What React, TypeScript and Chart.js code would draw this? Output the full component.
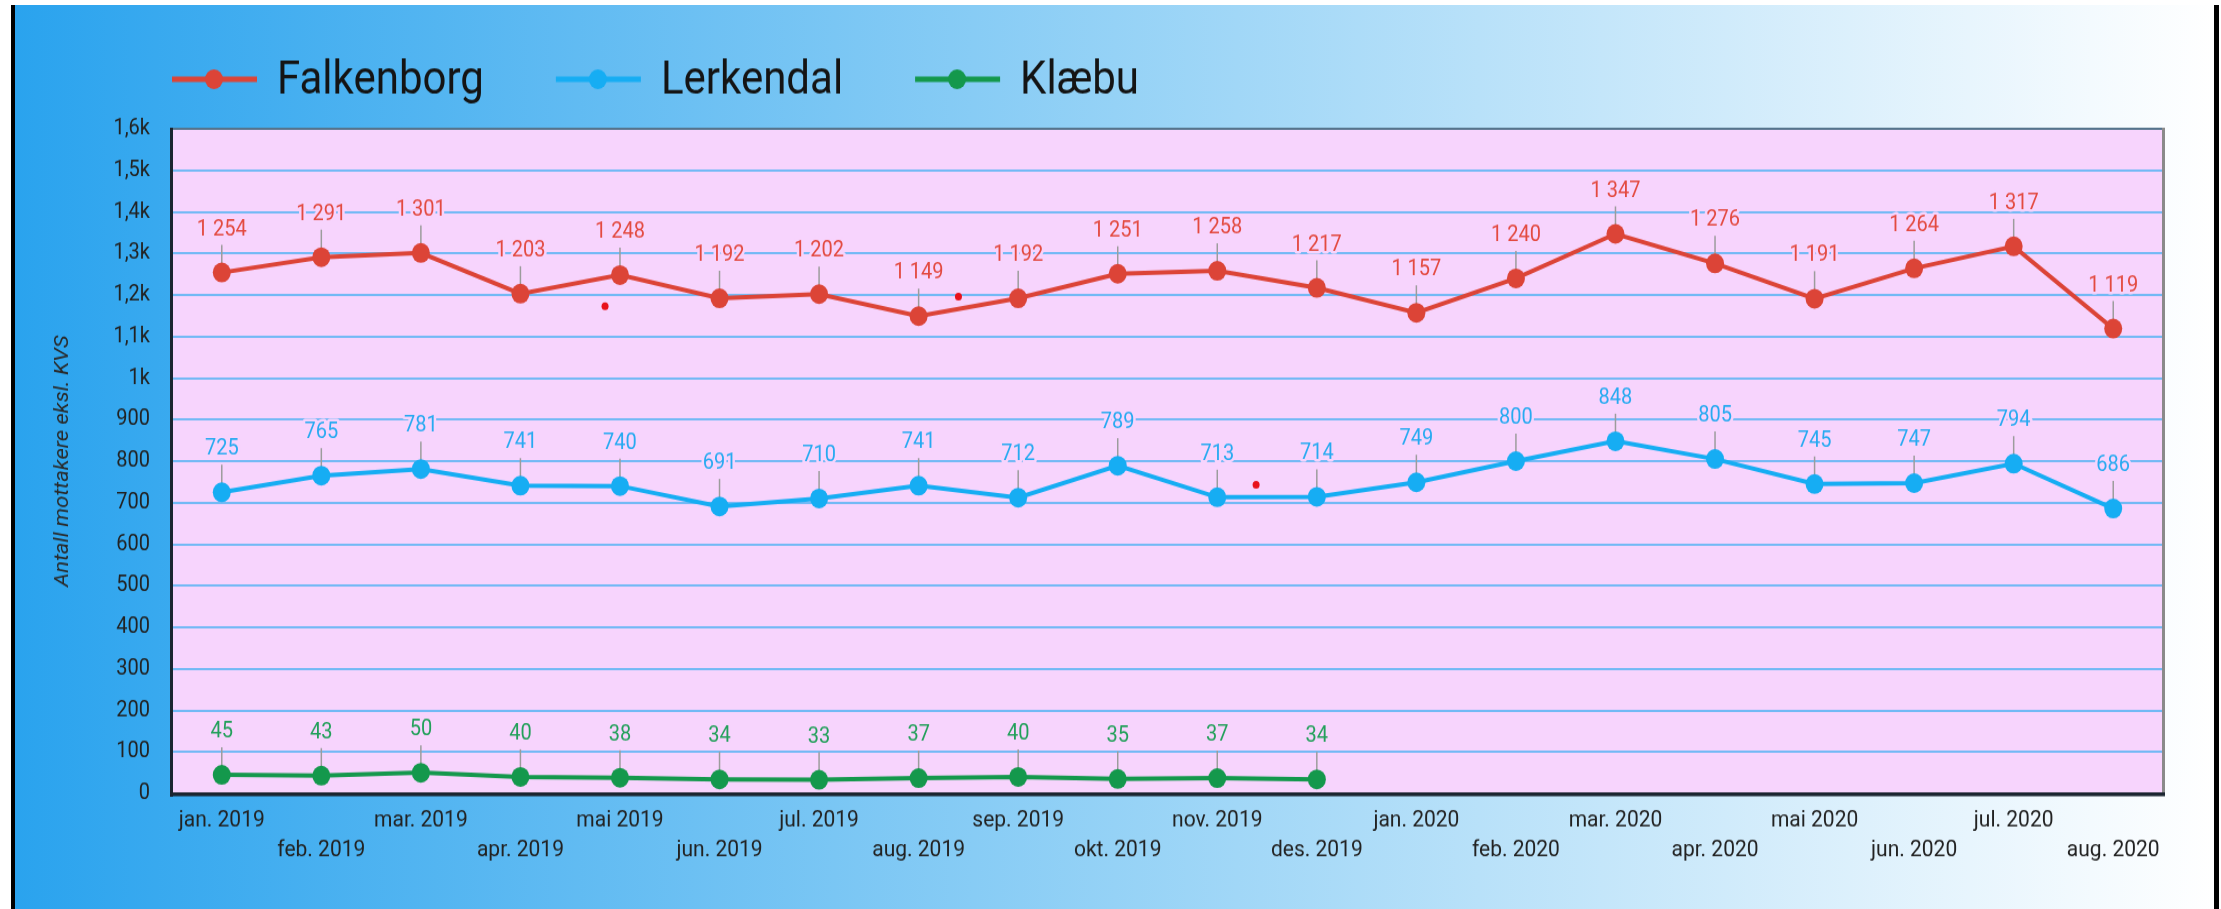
import React, { useEffect, useRef } from "react";
import { Chart, registerables } from "chart.js";

Chart.register(...registerables);

// ---------- data ----------
const months = [
  "jan. 2019", "feb. 2019", "mar. 2019", "apr. 2019", "mai 2019", "jun. 2019",
  "jul. 2019", "aug. 2019", "sep. 2019", "okt. 2019", "nov. 2019", "des. 2019",
  "jan. 2020", "feb. 2020", "mar. 2020", "apr. 2020", "mai 2020", "jun. 2020",
  "jul. 2020", "aug. 2020",
];
const falkenborg = [1254, 1291, 1301, 1203, 1248, 1192, 1202, 1149, 1192, 1251, 1258, 1217, 1157, 1240, 1347, 1276, 1191, 1264, 1317, 1119];
const lerkendal = [725, 765, 781, 741, 740, 691, 710, 741, 712, 789, 713, 714, 749, 800, 848, 805, 745, 747, 794, 686];
const klaebu = [45, 43, 50, 40, 38, 34, 33, 37, 40, 35, 37, 34, null, null, null, null, null, null, null, null];
const seriesNames = ["Falkenborg", "Lerkendal", "Klæbu"];
const lineColors = ["#dc4437", "#16adf3", "#14984c"];
const labelColors = ["#e34a40", "#27aaf1", "#22a05a"];
// small stray red dots seen in the picture (category index, value)
const strayX = [3.85, 7.4, 10.39];
const strayY = [1173, 1196, 743];
const yMin = 0;
const yMax = 1600;
const yStep = 100;
const yTitle = "Antall mottakere eksl. KVS";

const PINK = "#f7d4fd";
const CANVAS_H = 826;
const STRETCH = 909 / CANVAS_H;

function fmtNo(v: number): string {
  const s = String(v);
  return s.length > 3 ? s.slice(0, -3) + " " + s.slice(-3) : s;
}

const decoPlugin = {
  id: "deco",
  beforeDraw(chart: any) {
    const { ctx, chartArea: a } = chart;
    ctx.save();
    ctx.fillStyle = PINK;
    ctx.fillRect(a.left, a.top, a.right - a.left, a.bottom - a.top);
    ctx.restore();
  },
  beforeDatasetsDraw(chart: any) {
    const { ctx, chartArea: a } = chart;
    ctx.save();
    // plot frame
    ctx.fillStyle = "#55748c";
    ctx.fillRect(a.left, a.top - 1, a.right - a.left, 2);
    ctx.fillStyle = "#8a8a8a";
    ctx.fillRect(a.right - 1, a.top - 1, 3, a.bottom - a.top + 2);
    ctx.fillStyle = "#1b2530";
    ctx.fillRect(a.left - 2, a.top - 1, 3, a.bottom - a.top + 4);
    ctx.fillRect(a.left - 2, a.bottom - 1, a.right - a.left + 4, 3.5);
    // leader lines
    ctx.strokeStyle = "#9c9c9c";
    ctx.lineWidth = 1.5;
    chart.data.datasets.forEach((ds: any, i: number) => {
      if (ds.stray) return;
      const meta = chart.getDatasetMeta(i);
      meta.data.forEach((pt: any, j: number) => {
        if (ds.data[j] == null) return;
        ctx.beginPath();
        ctx.moveTo(pt.x, pt.y);
        ctx.lineTo(pt.x, pt.y - 25);
        ctx.stroke();
      });
    });
    ctx.restore();
  },
  afterDatasetsDraw(chart: any) {
    const { ctx } = chart;
    ctx.save();
    ctx.font = "20px Roboto";
    ctx.textAlign = "center";
    ctx.textBaseline = "middle";
    ctx.lineJoin = "round";
    chart.data.datasets.forEach((ds: any, i: number) => {
      if (ds.stray) return;
      const meta = chart.getDatasetMeta(i);
      meta.data.forEach((pt: any, j: number) => {
        const v = ds.data[j];
        if (v == null) return;
        const t = fmtNo(v);
        const y = pt.y - 39;
        ctx.strokeStyle = PINK;
        ctx.lineWidth = 5;
        ctx.strokeText(t, pt.x, y);
        ctx.fillStyle = labelColors[i];
        ctx.fillText(t, pt.x, y);
      });
    });
    ctx.restore();
  },
  afterDraw(chart: any) {
    const { ctx } = chart;
    ctx.save();
    let x = 172;
    const cy = 72;
    ctx.font = "42px Roboto";
    ctx.textBaseline = "middle";
    ctx.textAlign = "left";
    seriesNames.forEach((name, i) => {
      ctx.strokeStyle = lineColors[i];
      ctx.lineWidth = 5;
      ctx.beginPath();
      ctx.moveTo(x, cy);
      ctx.lineTo(x + 85, cy);
      ctx.stroke();
      ctx.fillStyle = lineColors[i];
      ctx.beginPath();
      ctx.arc(x + 42, cy, 9, 0, Math.PI * 2);
      ctx.fill();
      ctx.fillStyle = "#141414";
      ctx.fillText(name, x + 105, cy + 2);
      x += 105 + ctx.measureText(name).width + 72;
    });
    ctx.restore();
  },
};

export default function App() {
  const ref = useRef<HTMLCanvasElement | null>(null);

  useEffect(() => {
    document.body.style.margin = "0";
    const series = [falkenborg, lerkendal, klaebu];
    const datasets: any[] = series.map((d, i) => ({
      label: seriesNames[i],
      data: d,
      borderColor: lineColors[i],
      backgroundColor: lineColors[i],
      pointBackgroundColor: lineColors[i],
      pointBorderColor: lineColors[i],
      borderWidth: 4,
      pointRadius: 9,
      pointBorderWidth: 0,
      tension: 0,
      spanGaps: false,
      xAxisID: "x",
    }));
    datasets.push({
      label: "dots",
      stray: true,
      data: strayX.map((x, i) => ({ x, y: strayY[i] })),
      showLine: false,
      pointRadius: 3.5,
      pointBorderWidth: 0,
      pointBackgroundColor: "#e8121c",
      backgroundColor: "#e8121c",
      borderColor: "#e8121c",
      xAxisID: "xd",
    });

    const chart = new Chart(ref.current as HTMLCanvasElement, {
      type: "line",
      data: { labels: months, datasets },
      options: {
        animation: false,
        responsive: true,
        maintainAspectRatio: false,
        devicePixelRatio: 1,
        layout: { padding: { top: 117, right: 58, bottom: 0, left: 0 } },
        plugins: { legend: { display: false }, tooltip: { enabled: false } },
        scales: {
          x: {
            type: "category",
            offset: true,
            grid: { display: false, drawTicks: false },
            border: { display: false },
            ticks: {
              autoSkip: false,
              maxRotation: 0,
              minRotation: 0,
              padding: 11,
              color: "#222",
              font: { family: "Roboto", size: 21, lineHeight: 1.3 },
              callback: (_v: any, i: number) => (i % 2 ? ["", months[i]] : months[i]),
            },
            afterFit: (s: any) => { s.height = 105; },
          },
          xd: {
            type: "linear",
            display: false,
            min: -0.5,
            max: months.length - 0.5,
          },
          y: {
            min: yMin,
            max: yMax,
            grid: { color: "#72b9f5", lineWidth: 2, drawTicks: false },
            border: { display: false },
            ticks: {
              stepSize: yStep,
              padding: 22,
              color: "#222",
              font: { family: "Roboto", size: 20 },
              callback: (v: any) =>
                v >= 1000 ? String(v / 1000).replace(".", ",") + "k" : String(v),
            },
            title: {
              display: true,
              text: yTitle,
              color: "#2a2a2a",
              font: { family: "Roboto", size: 20, style: "italic" },
              padding: { top: 51, bottom: 0 },
            },
            afterFit: (s: any) => { s.width = 172; },
          },
        },
      },
      plugins: [decoPlugin],
    } as any);
    return () => chart.destroy();
  }, []);

  return (
    <div style={{ position: "fixed", left: 0, top: 0, width: 2221, height: 909, background: "#fff", overflow: "hidden" }}>
      <div style={{ position: "absolute", left: 15, top: 5, width: 2199, height: 904, background: "linear-gradient(to right, #2aa3ee 0%, #95d2f6 50%, #ffffff 100%)" }} />
      <div style={{ position: "absolute", left: 11, top: 5, width: 4, height: 904, background: "#000" }} />
      <div style={{ position: "absolute", left: 2214, top: 5, width: 5, height: 904, background: "#000" }} />
      <div style={{ position: "absolute", left: 0, top: 0, width: 2221, height: CANVAS_H, transform: `scaleY(${STRETCH})`, transformOrigin: "0 0" }}>
        <canvas ref={ref} />
      </div>
    </div>
  );
}
